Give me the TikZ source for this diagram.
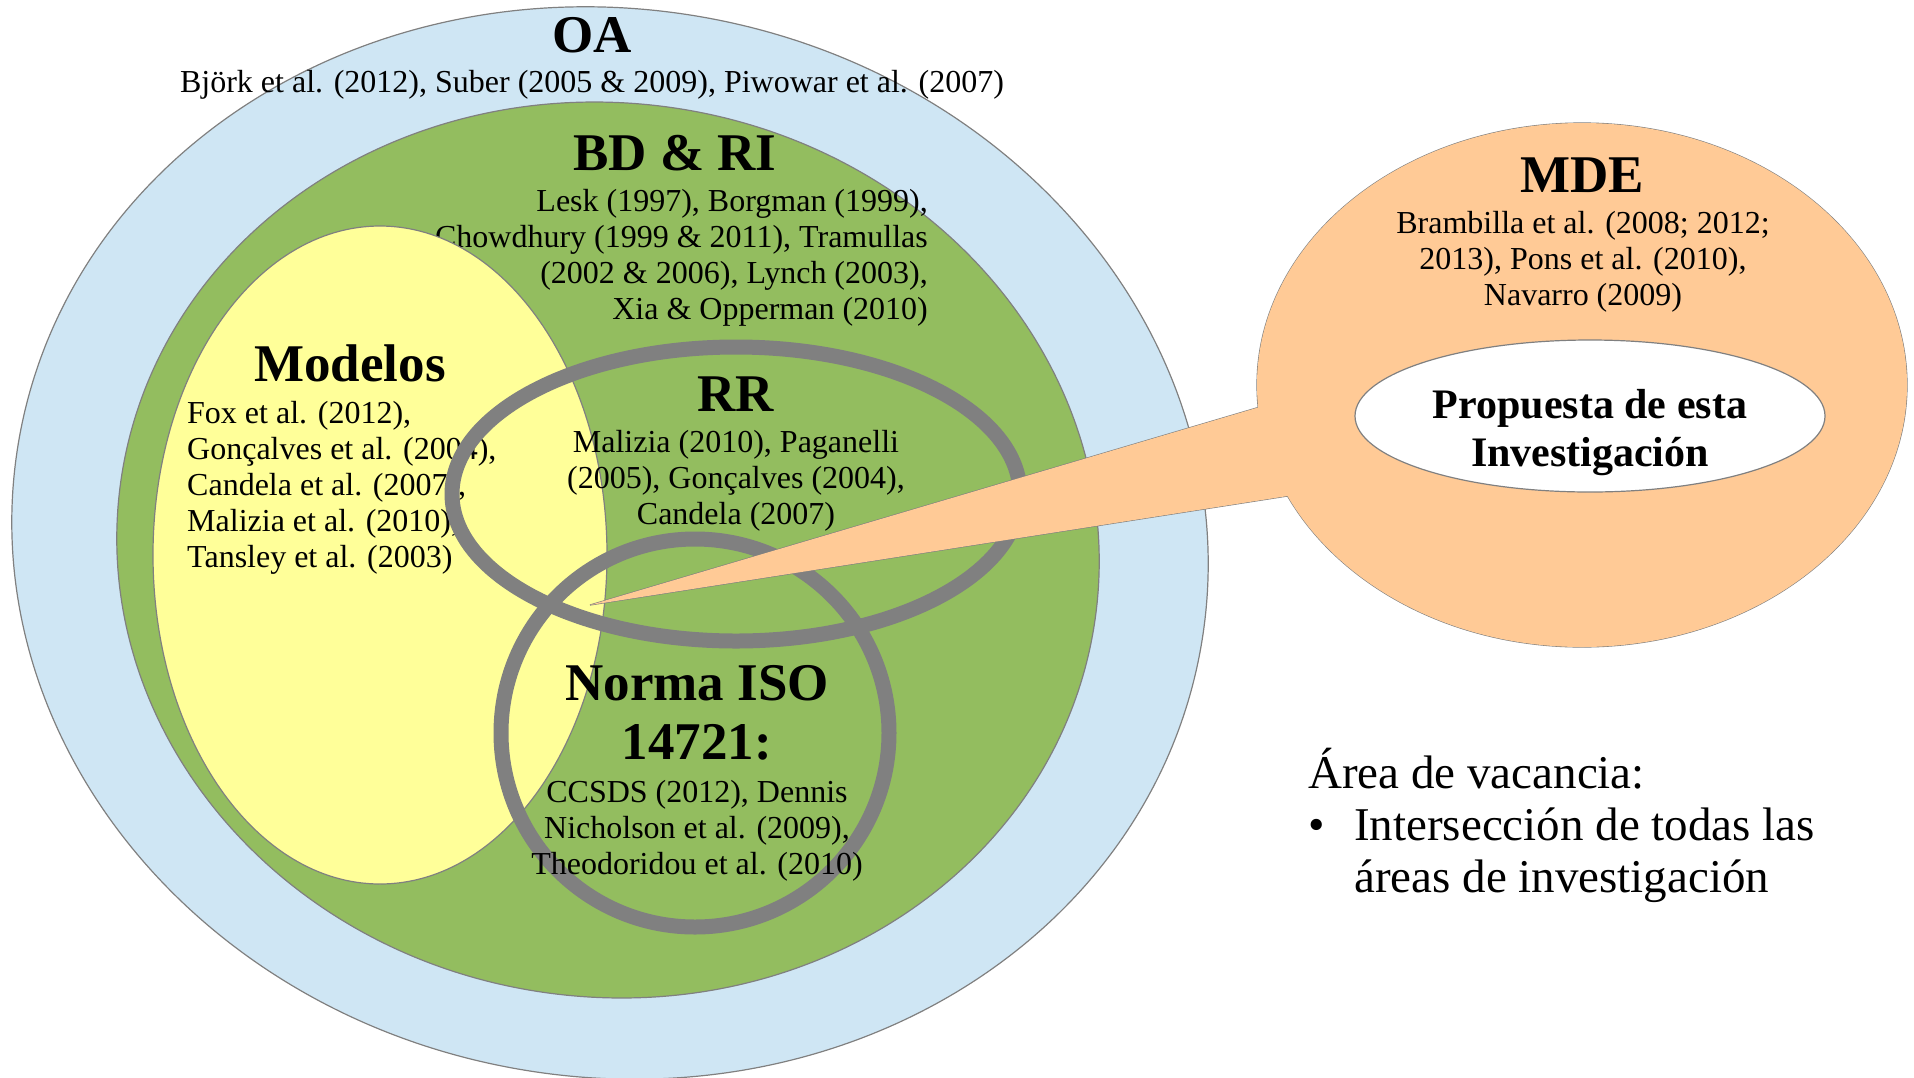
\documentclass[tikz,border=0pt]{standalone}
\usepackage{fontspec}
\setmainfont{Liberation Serif}

\definecolor{oablue}{HTML}{CFE6F4}
\definecolor{bdgreen}{HTML}{93BD5F}
\definecolor{modyellow}{HTML}{FFFF99}
\definecolor{mdepeach}{HTML}{FFCA96}
\definecolor{ringgray}{HTML}{808080}

\tikzset{
  outline/.style={draw=black!50, line width=1.2pt},
  ring/.style={draw=ringgray, line width=15pt},
  heading/.style={font=\fontsize{53}{59}\selectfont\bfseries, inner sep=0pt, anchor=base},
  refs/.style={font=\fontsize{32}{36}\selectfont, inner sep=0pt, anchor=base},
}

\begin{document}
\begin{tikzpicture}[x=1pt, y=-1pt]
  \useasboundingbox (0,0) rectangle (1914,1077);

  % OA (multi-line nodes sit on their last baseline)
  \filldraw[outline, fill=oablue, rotate around={-10:(610,543)}]
    (610,543) ellipse [x radius=600, y radius=534];
  \node[heading] (oa) at (592,52) {OA};
  \node[refs] (oarefs) at (592,92)
    {Björk et al. (2012), Suber (2005 \& 2009), Piwowar et al. (2007)};

  % BD & RI
  \filldraw[outline, fill=bdgreen, rotate around={-8:(608,550)}]
    (608,550) ellipse [x radius=492, y radius=447];
  \node[heading] (bdri) at (675,170) {BD \& RI};
  \node[refs, align=right, anchor=base east] (bdrirefs) at (928,319)
    {Lesk (1997), Borgman (1999),\\Chowdhury (1999 \& 2011), Tramullas\\
     (2002 \& 2006), Lynch (2003),\\Xia \& Opperman (2010)};

  % Modelos
  \filldraw[outline, fill=modyellow] (380,555) ellipse [x radius=227, y radius=329];
  \node[heading] (modelos) at (350,381) {Modelos};
  \node[refs, align=left, anchor=base west] (modelosrefs) at (187,567)
    {Fox et al. (2012),\\Gonçalves et al. (2004),\\Candela et al. (2007),\\
     Malizia et al. (2010),\\Tansley et al. (2003)};

  % RR
  \draw[ring] (736,494) ellipse [x radius=284, y radius=147];
  \node[heading] (rr) at (736,411) {RR};
  \node[refs, align=center] (rrrefs) at (736,524)
    {Malizia (2010), Paganelli\\(2005), Gonçalves (2004),\\Candela (2007)};

  % Norma ISO
  \draw[ring] (695,733) circle [radius=194];
  \node[heading, align=center] (iso) at (697,759) {Norma ISO\\14721:};
  \node[refs, align=center] (isorefs) at (697,874)
    {CCSDS (2012), Dennis\\Nicholson et al. (2009),\\Theodoridou et al. (2010)};

  % MDE callout
  \coordinate (tip) at (590,605);
  \coordinate (b1) at (1324,388);
  \coordinate (b2) at (1358,485);
  \draw[outline] (tip) -- (b1) -- (b2) -- cycle;
  \draw[outline] (1582,385) ellipse [x radius=325, y radius=262];
  \fill[mdepeach] (tip) -- (b1) -- (b2) -- cycle;
  \fill[mdepeach] (1582,385) ellipse [x radius=325, y radius=262];
  \node[heading] (mde) at (1582,192) {MDE};
  \node[refs, align=center] (mderefs) at (1583,305)
    {Brambilla et al. (2008; 2012;\\2013), Pons et al. (2010),\\Navarro (2009)};

  \filldraw[outline, fill=white] (1590,416) ellipse [x radius=235, y radius=76];
  \node[font=\fontsize{42}{48}\selectfont\bfseries, inner sep=0pt, anchor=base,
    align=center] (propuesta) at (1590,466) {Propuesta de esta\\Investigación};

  % Vacancia
  \node[font=\fontsize{47}{52}\selectfont, inner sep=0pt, anchor=base west,
    align=left] (vacancia) at (1308,892)
    {Área de vacancia:\\\makebox[46pt][l]{\textbullet}Intersección de todas las\\
     \hspace*{46pt}áreas de investigación};
\end{tikzpicture}
\end{document}
